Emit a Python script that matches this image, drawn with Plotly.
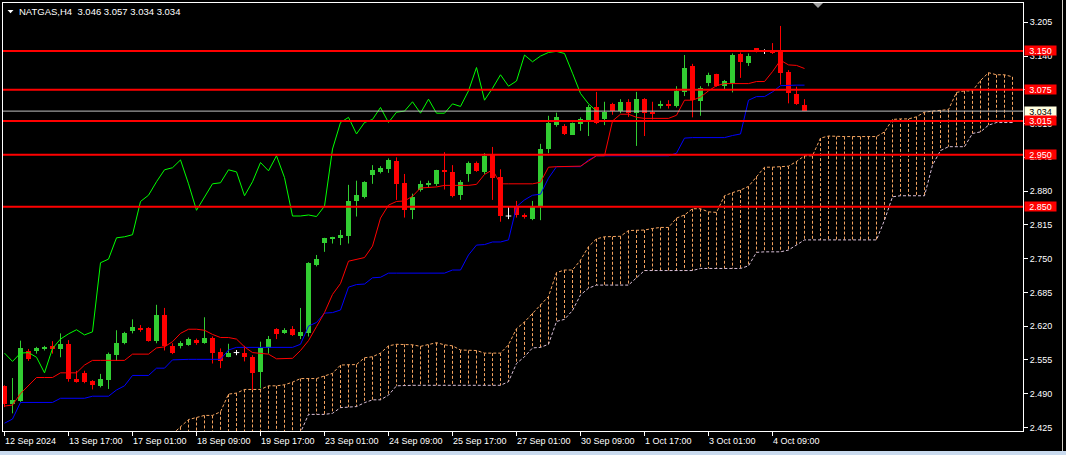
import plotly.graph_objects as go

# ---------------- data ----------------
tick_bars = [0, 8, 16, 24, 32, 40, 48, 56, 64, 72, 80, 88, 96]
tick_labels = ["12 Sep 2024", "13 Sep 17:00", "17 Sep 01:00", "18 Sep 09:00",
               "19 Sep 17:00", "23 Sep 01:00", "24 Sep 09:00", "25 Sep 17:00",
               "27 Sep 01:00", "30 Sep 09:00", "1 Oct 17:00", "3 Oct 01:00",
               "4 Oct 09:00"]

y_ticks = [2.425, 2.490, 2.555, 2.620, 2.685, 2.750, 2.815, 2.880,
           2.945, 3.010, 3.075, 3.140, 3.205]
y_tick_text = ["2.425", "2.490", "2.555", "2.620", "2.685", "2.750", "2.815", "2.880",
               "2.945", "3.010", "", "3.140", "3.205"]

opens = [2.505, 2.470, 2.476, 2.572, 2.572, 2.575, 2.582, 2.575, 2.585, 2.519,
         2.530, 2.514, 2.505, 2.516, 2.564, 2.587, 2.610, 2.616, 2.617, 2.591,
         2.641, 2.582, 2.582, 2.584, 2.594, 2.587, 2.598, 2.571, 2.561, 2.569,
         2.569, 2.560, 2.532, 2.577, 2.614, 2.607, 2.614, 2.600, 2.606, 2.738,
         2.780, 2.788, 2.790, 2.793, 2.860, 2.869, 2.911, 2.917, 2.923, 2.938,
         2.896, 2.843, 2.882, 2.893, 2.894, 2.921, 2.917, 2.872, 2.913, 2.935,
         2.916, 2.949, 2.908, 2.832, 2.849, 2.834, 2.827, 2.850, 2.961, 3.007,
         3.005, 2.988, 3.009, 3.016, 3.041, 3.018, 3.048, 3.034, 3.052, 3.030,
         3.057, 3.033, 3.045, 3.048, 3.043, 3.070, 3.121, 3.054, 3.089, 3.105,
         3.082, 3.089, 3.144, 3.127, 3.155, 3.149, 3.150, 3.148, 3.110, 3.067,
         3.046]

highs = [2.506, 2.520, 2.592, 2.576, 2.580, 2.582, 2.591, 2.606, 2.593, 2.534,
         2.534, 2.516, 2.528, 2.569, 2.612, 2.609, 2.633, 2.622, 2.618, 2.661,
         2.655, 2.587, 2.591, 2.598, 2.596, 2.637, 2.600, 2.577, 2.586, 2.574,
         2.582, 2.564, 2.590, 2.601, 2.616, 2.616, 2.620, 2.655, 2.743, 2.757,
         2.790, 2.792, 2.805, 2.892, 2.900, 2.899, 2.930, 2.928, 2.943, 2.945,
         2.913, 2.875, 2.900, 2.900, 2.921, 2.955, 2.930, 2.901, 2.937, 2.937,
         2.953, 2.965, 2.922, 2.851, 2.861, 2.837, 2.861, 2.971, 3.025, 3.031,
         3.009, 3.012, 3.022, 3.046, 3.071, 3.052, 3.050, 3.057, 3.057, 3.071,
         3.059, 3.052, 3.054, 3.055, 3.082, 3.142, 3.125, 3.082, 3.108, 3.106,
         3.094, 3.145, 3.147, 3.145, 3.155, 3.153, 3.165, 3.198, 3.113, 3.081,
         3.057]

lows = [2.464, 2.452, 2.474, 2.553, 2.567, 2.573, 2.567, 2.560, 2.513, 2.511,
        2.510, 2.498, 2.502, 2.499, 2.553, 2.585, 2.606, 2.609, 2.590, 2.587,
        2.573, 2.566, 2.577, 2.582, 2.584, 2.586, 2.548, 2.539, 2.560, 2.564,
        2.552, 2.497, 2.500, 2.567, 2.595, 2.605, 2.601, 2.595, 2.600, 2.735,
        2.763, 2.779, 2.776, 2.779, 2.831, 2.866, 2.894, 2.914, 2.915, 2.863,
        2.829, 2.826, 2.879, 2.887, 2.890, 2.883, 2.868, 2.863, 2.898, 2.917,
        2.913, 2.863, 2.821, 2.826, 2.829, 2.827, 2.824, 2.824, 2.953, 3.004,
        2.988, 2.988, 2.996, 2.986, 3.009, 3.007, 3.027, 3.030, 3.023, 2.967,
        2.986, 3.018, 3.039, 3.039, 3.041, 3.063, 3.022, 3.025, 3.082, 3.081,
        3.075, 3.070, 3.098, 3.121, 3.147, 3.144, 3.144, 3.085, 3.049, 3.046,
        3.034]

closes = [2.470, 2.478, 2.578, 2.557, 2.577, 2.579, 2.575, 2.585, 2.518, 2.513,
          2.513, 2.507, 2.518, 2.566, 2.588, 2.607, 2.619, 2.614, 2.591, 2.642,
          2.582, 2.569, 2.587, 2.596, 2.587, 2.597, 2.568, 2.552, 2.568, 2.569,
          2.560, 2.530, 2.577, 2.595, 2.605, 2.613, 2.603, 2.609, 2.742, 2.749,
          2.790, 2.792, 2.796, 2.860, 2.872, 2.898, 2.921, 2.925, 2.940, 2.894,
          2.843, 2.869, 2.894, 2.896, 2.921, 2.917, 2.871, 2.898, 2.935, 2.919,
          2.948, 2.906, 2.832, 2.832, 2.834, 2.831, 2.851, 2.961, 3.012, 3.022,
          2.990, 3.012, 3.018, 3.041, 3.012, 3.032, 3.034, 3.052, 3.030, 3.057,
          3.030, 3.030, 3.048, 3.043, 3.073, 3.118, 3.055, 3.078, 3.104, 3.082,
          3.092, 3.142, 3.129, 3.140, 3.147, 3.149, 3.145, 3.107, 3.068, 3.048,
          3.034]

tenkan = [2.466, 2.468, 2.490, 2.505, 2.521, 2.521, 2.521, 2.530, 2.530, 2.530,
          2.545, 2.554, 2.554, 2.554, 2.554, 2.554, 2.566, 2.566, 2.566, 2.578,
          2.580, 2.590, 2.606, 2.614, 2.614, 2.612, 2.604, 2.598, 2.598, 2.595,
          2.580, 2.569, 2.568, 2.566, 2.557, 2.557, 2.558, 2.573, 2.592, 2.619,
          2.646, 2.681, 2.702, 2.745, 2.749, 2.752, 2.774, 2.828, 2.853, 2.860,
          2.861, 2.870, 2.886, 2.887, 2.888, 2.891, 2.891, 2.891, 2.891, 2.893,
          2.912, 2.921, 2.894, 2.894, 2.894, 2.894, 2.894, 2.897, 2.926, 2.927,
          2.927, 2.927, 2.928, 2.938, 2.948, 2.948, 3.015, 3.028, 3.028, 3.022,
          3.020, 3.020, 3.020, 3.020, 3.026, 3.055, 3.055, 3.061, 3.073, 3.083,
          3.087, 3.087, 3.087, 3.087, 3.091, 3.091, 3.110, 3.132, 3.123, 3.122,
          3.116]

kijun = [2.433, 2.441, 2.473, 2.473, 2.473, 2.473, 2.473, 2.481, 2.481, 2.481,
         2.481, 2.485, 2.485, 2.485, 2.497, 2.505, 2.525, 2.525, 2.525, 2.539,
         2.539, 2.555, 2.556, 2.556, 2.556, 2.556, 2.556, 2.556, 2.574, 2.579,
         2.579, 2.579, 2.579, 2.579, 2.579, 2.579, 2.579, 2.585, 2.620, 2.627,
         2.645, 2.646, 2.651, 2.695, 2.700, 2.701, 2.713, 2.714, 2.722, 2.722,
         2.722, 2.722, 2.722, 2.722, 2.722, 2.722, 2.728, 2.728, 2.757, 2.776,
         2.777, 2.782, 2.782, 2.786, 2.850, 2.863, 2.872, 2.874, 2.905, 2.927,
         2.927, 2.927, 2.927, 2.940, 2.948, 2.948, 2.948, 2.948, 2.948, 2.948,
         2.948, 2.948, 2.948, 2.948, 2.953, 2.982, 2.983, 2.983, 2.983, 2.983,
         2.983, 2.987, 2.990, 3.055, 3.062, 3.062, 3.071, 3.083, 3.084, 3.084,
         3.084]

SPAN_A_START = 21
span_a = [2.412, 2.426, 2.440, 2.444, 2.448, 2.448, 2.455, 2.489, 2.491, 2.498,
          2.498, 2.498, 2.505, 2.505, 2.507, 2.512, 2.519, 2.519, 2.519, 2.524,
          2.529, 2.545, 2.546, 2.546, 2.559, 2.561, 2.568, 2.582, 2.585, 2.585,
          2.584, 2.581, 2.584, 2.588, 2.584, 2.582, 2.574, 2.573, 2.573, 2.568,
          2.568, 2.568, 2.584, 2.615, 2.628, 2.645, 2.662, 2.677, 2.723, 2.728,
          2.728, 2.747, 2.773, 2.788, 2.792, 2.792, 2.793, 2.804, 2.805, 2.805,
          2.808, 2.810, 2.810, 2.828, 2.834, 2.846, 2.846, 2.840, 2.839, 2.871,
          2.877, 2.882, 2.889, 2.908, 2.926, 2.926, 2.927, 2.928, 2.937, 2.948,
          2.948, 2.982, 2.986, 2.985, 2.985, 2.985, 2.985, 2.985, 2.985, 2.994,
          3.018, 3.019, 3.019, 3.023, 3.032, 3.034, 3.036, 3.037, 3.070, 3.073,
          3.073, 3.093, 3.108, 3.104, 3.104, 3.100]

SPAN_B_START = 22
span_b = [2.400, 2.400, 2.400, 2.400, 2.400, 2.400, 2.400, 2.400, 2.400,
          2.400, 2.400, 2.400, 2.400, 2.400, 2.405, 2.415, 2.450, 2.450, 2.450,
          2.452, 2.463, 2.464, 2.465, 2.4725, 2.478, 2.478, 2.487, 2.505, 2.506,
          2.506, 2.506, 2.506, 2.506, 2.506, 2.506, 2.506, 2.506, 2.506, 2.506,
          2.506, 2.506, 2.513, 2.548, 2.561, 2.578, 2.579, 2.585, 2.629, 2.633,
          2.650, 2.680, 2.693, 2.699, 2.699, 2.699, 2.699, 2.699, 2.713, 2.727,
          2.727, 2.727, 2.727, 2.727, 2.727, 2.727, 2.731, 2.731, 2.731, 2.731,
          2.731, 2.731, 2.736, 2.762, 2.763, 2.763, 2.763, 2.7665, 2.776, 2.786,
          2.786, 2.786, 2.786, 2.786, 2.786, 2.786, 2.786, 2.786, 2.786, 2.824,
          2.869, 2.871, 2.871, 2.871, 2.871, 2.930, 2.958, 2.9655, 2.9655, 2.9655,
          2.991, 2.994, 3.007, 3.012, 3.012, 3.012]

CHIKOU_SHIFT = 26

levels = [3.150, 3.075, 3.015, 2.950, 2.850]
level_labels = ["3.150", "3.075", "3.015", "2.950", "2.850"]
bid_price = 3.034
bid_label = "3.034"
title_text = "NATGAS,H4\u00a0\u00a03.046 3.057 3.034 3.034"

# ---------------- styles ----------------
BULL = "#32CD32"
BEAR = "#FF0000"
DOJI = "#FFFFFF"
SANDY = "#F4A460"
THISTLE = "#D8BFD8"
FONT = "Liberation Sans"
FG = "#FFFFFF"
DASH = "3px,2px"

W, H = 1066, 455
PL, PR, PT, PB = 3, 43, 3, 24
X0, X1 = PL, W - PR          # plot area pixel edges
Y0, Y1 = PT, H - PB


def pxx(px):
    return (px - X0) / (X1 - X0)


def pxy(py):
    return (Y1 - py) / (Y1 - Y0)


n = len(closes)
fig = go.Figure()

# ---- Ichimoku cloud hatch ----
hx, hy = [], []
for k in range(SPAN_B_START, SPAN_A_START + len(span_a)):
    a = span_a[k - SPAN_A_START]
    b = span_b[k - SPAN_B_START]
    hx += [k, k, None]
    hy += [a, b, None]
fig.add_trace(go.Scatter(x=hx, y=hy, mode="lines", hoverinfo="skip",
                         line=dict(color=SANDY, width=1, dash=DASH)))
fig.add_trace(go.Scatter(x=list(range(SPAN_B_START, SPAN_B_START + len(span_b))),
                         y=span_b, mode="lines", hoverinfo="skip",
                         line=dict(color=THISTLE, width=1, dash=DASH)))
fig.add_trace(go.Scatter(x=list(range(SPAN_A_START, SPAN_A_START + len(span_a))),
                         y=span_a, mode="lines", hoverinfo="skip",
                         line=dict(color=SANDY, width=1, dash=DASH)))

# ---- candles ----
groups = {"bull": [], "bear": [], "doji": []}
for i in range(n):
    o, c = opens[i], closes[i]
    key = "bull" if c > o else ("bear" if c < o else "doji")
    groups[key].append(i)

colors = {"bull": BULL, "bear": BEAR, "doji": DOJI}
for key in ("bull", "bear"):
    idx = groups[key]
    fig.add_trace(go.Bar(
        x=idx,
        y=[max(abs(closes[i] - opens[i]), 0.0015) for i in idx],
        base=[min(opens[i], closes[i]) for i in idx],
        width=0.6, marker=dict(color=colors[key], line=dict(width=0)),
        hoverinfo="skip"))

for key in ("bull", "bear", "doji"):
    wx, wy = [], []
    for i in groups[key]:
        wx += [i, i, None]
        wy += [lows[i], highs[i], None]
        if key == "doji":
            wx += [i - 0.35, i + 0.35, None]
            wy += [opens[i], opens[i], None]
    fig.add_trace(go.Scatter(x=wx, y=wy, mode="lines", hoverinfo="skip",
                             line=dict(color=colors[key], width=1)))

# ---- Ichimoku lines ----
fig.add_trace(go.Scatter(x=list(range(n - CHIKOU_SHIFT)), y=closes[CHIKOU_SHIFT:],
                         mode="lines", line=dict(color="#00FF00", width=1), hoverinfo="skip"))
fig.add_trace(go.Scatter(x=list(range(n)), y=kijun, mode="lines",
                         line=dict(color="#0000FF", width=1), hoverinfo="skip"))
fig.add_trace(go.Scatter(x=list(range(n)), y=tenkan, mode="lines",
                         line=dict(color="#FF0000", width=1), hoverinfo="skip"))

shapes = []
shapes.append(dict(type="line", xref="paper", yref="y", x0=0, x1=1, y0=bid_price, y1=bid_price,
                   line=dict(color="#C0C0C0", width=1), layer="above"))
for lv in levels:
    shapes.append(dict(type="line", xref="paper", yref="y", x0=0, x1=1, y0=lv, y1=lv,
                       line=dict(color="#FF0000", width=2), layer="above"))
shapes.append(dict(type="path", xref="paper", yref="paper",
                   path="M %f %f L %f %f L %f %f Z" % (pxx(7.5), pxy(10), pxx(13.5), pxy(10),
                                                       pxx(10.5), pxy(13.3)),
                   fillcolor=FG, line=dict(width=0), layer="above"))
shapes.append(dict(type="path", xref="paper", yref="paper",
                   path="M %f %f L %f %f L %f %f Z" % (pxx(813), pxy(3), pxx(823), pxy(3),
                                                       pxx(818), pxy(8)),
                   fillcolor="#A0A0A0", line=dict(width=0), layer="above"))
shapes.append(dict(type="line", xref="paper", yref="paper", x0=pxx(1062.5), x1=pxx(1062.5),
                   y0=pxy(0), y1=pxy(451), line=dict(color="#D4D0C8", width=1)))
shapes.append(dict(type="rect", xref="paper", yref="paper", x0=pxx(0), x1=pxx(1066),
                   y0=pxy(451), y1=pxy(455), fillcolor="#C9DAEE", line=dict(width=0)))

annotations = []
for b, t in zip(tick_bars, tick_labels):
    annotations.append(dict(x=b, y=0, xref="x", yref="paper", text=t, showarrow=False,
                            xanchor="left", yanchor="middle", xshift=-1, yshift=-10,
                            borderpad=0, font=dict(family=FONT, size=9, color=FG)))
annotations.append(dict(x=1, y=bid_price, xref="paper", yref="y", text=bid_label, showarrow=False,
                        xanchor="left", yanchor="middle", xshift=1, width=31, height=9,
                        borderpad=0, bgcolor="#FFFFE0",
                        font=dict(family=FONT, size=9, color="#000000")))
for lv, t in zip(levels, level_labels):
    annotations.append(dict(x=1, y=lv, xref="paper", yref="y", text=t, showarrow=False,
                            xanchor="left", yanchor="middle", xshift=1, width=31, height=9,
                            borderpad=0, bgcolor="#FF0000",
                            font=dict(family=FONT, size=9, color="#FFFFFF")))
annotations.append(dict(x=pxx(18), y=pxy(11.5), xref="paper", yref="paper", text=title_text,
                        showarrow=False, xanchor="left", yanchor="middle", borderpad=0,
                        font=dict(family=FONT, size=9.5, color=FG)))

fig.update_layout(
    width=W, height=H, margin=dict(l=PL, r=PR, t=PT, b=PB),
    paper_bgcolor="#000000", plot_bgcolor="#000000",
    showlegend=False, barmode="overlay", bargap=0,
    shapes=shapes, annotations=annotations,
    xaxis=dict(range=[-0.1875, 127.3125], showgrid=False, zeroline=False,
               showline=True, linecolor=FG, linewidth=1, mirror=True,
               ticks="outside", ticklen=4, tickcolor=FG, tickwidth=1,
               tickvals=tick_bars, showticklabels=False, fixedrange=True),
    yaxis=dict(range=[2.418, 3.2422], side="right", showgrid=False, zeroline=False,
               showline=True, linecolor=FG, linewidth=1, mirror=True,
               ticks="outside", ticklen=4, tickcolor=FG, tickwidth=1,
               tickvals=y_ticks, ticktext=y_tick_text,
               tickfont=dict(family=FONT, size=9, color=FG), fixedrange=True),
)

fig.write_html("out.html", config={"displayModeBar": False},
               post_script="document.body.style.margin='0';"
                           "document.body.style.overflow='hidden';")
